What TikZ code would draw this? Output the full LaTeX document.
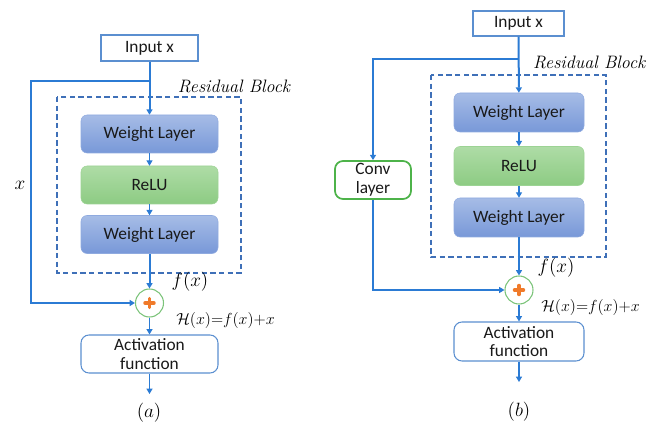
\documentclass[tikz,border=0pt]{standalone}
\usepackage{fontspec}
\setmainfont{Carlito}
\newfontfamily\lmr{Latin Modern Roman}
\usetikzlibrary{arrows.meta}
\definecolor{lblue}{HTML}{2B7BD4}
\definecolor{wtop}{HTML}{A6BCE6}
\definecolor{wbot}{HTML}{7898D8}
\definecolor{wborder}{HTML}{8FAADF}
\definecolor{gtop}{HTML}{AEDCA6}
\definecolor{gbot}{HTML}{8DCB83}
\definecolor{gborder}{HTML}{9CD394}
\definecolor{dashc}{HTML}{3F70B8}
\definecolor{circc}{HTML}{7CC47A}
\definecolor{plusc}{HTML}{F07A2A}
\definecolor{actc}{HTML}{5B8FD0}
\definecolor{convc}{HTML}{4DB34A}
\begin{document}
\begin{tikzpicture}[x=0.75pt,y=-0.75pt,
  line/.style={draw=lblue,line width=1.5pt},
  thinline/.style={draw=lblue,line width=0.8pt},
  tip/.style={-{Triangle[length=4pt,width=4.5pt]}},
  txt/.style={font=\fontsize{13}{14}\selectfont,text=black!90},
  wbox/.style={txt,rounded corners=4.5pt,draw=wborder,top color=wtop,bottom color=wbot,minimum width=102.75pt,minimum height=28.5pt,inner sep=0pt},
  gbox/.style={wbox,draw=gborder,top color=gtop,bottom color=gbot},
  inbox/.style={txt,draw=actc,line width=0.8pt,fill=white,inner sep=0pt},
  actbox/.style={txt,draw=actc,line width=0.8pt,rounded corners=6pt,fill=white,minimum width=102.75pt,minimum height=28.5pt,inner sep=0pt,align=center},
  convbox/.style={txt,draw=convc,line width=1.3pt,rounded corners=6pt,fill=white,minimum width=57pt,minimum height=28.5pt,inner sep=0pt,align=center},
  resbox/.style={draw=dashc,line width=0.9pt,dash pattern=on 4pt off 2.5pt},
  addc/.style={circle,draw=circc,line width=0.8pt,fill=white,minimum size=21pt,inner sep=0pt},
  plus/.style={draw=plusc,line width=2.6pt,line cap=round},
  mlab/.style={font=\fontsize{15}{17}\selectfont},
  hlab/.style={font=\fontsize{12.5}{15}\selectfont,anchor=west,inner sep=0pt},
  rlab/.style={font=\lmr\itshape\fontsize{13.5}{15}\selectfont}
]
\useasboundingbox (0,0) rectangle (651,424);

% ---------- (a) ----------
\draw[resbox] (57,97) rectangle (241,273);
\node[rlab] (resA) at (234,86) {Residual Block};
\node[inbox,minimum width=72.75pt,minimum height=19.5pt] (inA) at (149.5,48) {Input x};
\node[wbox] (wl1A) at (149.5,134) {Weight Layer};
\node[gbox] (reluA) at (149.5,185) {ReLU};
\node[wbox] (wl2A) at (149.5,234.5) {Weight Layer};
\node[addc] (circA) at (149.5,303) {};
\node[actbox] (actA) at (149.5,354) {Activation\\function};
\coordinate (outA) at (149.5,394);
\coordinate (jA) at (149.5,81);
\coordinate (cA) at (31,81);

\draw[line,tip] (inA) -- (wl1A);
\draw[thinline,tip] (wl1A) -- (reluA);
\draw[thinline,tip] (reluA) -- (wl2A);
\draw[line,tip] (wl2A) -- (circA);
\draw[line,tip] (jA) -- (cA) |- (circA.west);
\draw[thinline,tip] (circA) -- (actA);
\draw[thinline,tip] (actA) -- (outA);
\draw[plus] (circA.center) ++(-4.5,0) -- ++(9,0);
\draw[plus] (circA.center) ++(0,-4.5) -- ++(0,9);

\node[mlab] (xA) at (20,185) {$x$};
\node[mlab] (fA) at (190,282) {$f(x)$};
\node[hlab] (hA) at (176,321) {$\mathcal{H}(x){=}f(x){+}x$};
\node[mlab] (capA) at (149,413) {$(a)$};

% ---------- (b) ----------
\draw[resbox] (431,75) rectangle (606,257);
\node[rlab,anchor=east] (resB) at (650,62) {Residual Block};
\node[inbox,minimum width=68.25pt,minimum height=18.75pt] (inB) at (518.5,23.5) {Input x};
\node[wbox,minimum width=97.5pt,minimum height=29.25pt] (wl1B) at (519,112.5) {Weight Layer};
\node[gbox,minimum width=97.5pt,minimum height=29.25pt] (reluB) at (519,166) {ReLU};
\node[wbox,minimum width=97.5pt,minimum height=29.25pt] (wl2B) at (519,217.5) {Weight Layer};
\node[convbox] (convB) at (373,180) {Conv\\layer};
\node[addc] (circB) at (519,290) {};
\node[actbox,minimum width=97.5pt,minimum height=29.25pt] (actB) at (519,341.5) {Activation\\function};
\coordinate (outB) at (519,382);
\coordinate (jB) at (519,59);
\coordinate (cB) at (373,59);

\draw[line,tip] (inB) -- (wl1B);
\draw[thinline,tip] (wl1B) -- (reluB);
\draw[thinline,tip] (reluB) -- (wl2B);
\draw[line,tip] (wl2B) -- (circB);
\draw[line,tip] (jB) -- (cB) -- (convB.north);
\draw[line,tip] (convB.south) |- (circB.west);
\draw[thinline,tip] (circB) -- (actB);
\draw[thinline,tip] (actB) -- (outB);
\draw[plus] (circB.center) ++(-4.5,0) -- ++(9,0);
\draw[plus] (circB.center) ++(0,-4.5) -- ++(0,9);

\node[mlab] (fB) at (556,268) {$f(x)$};
\node[hlab] (hB) at (541,308) {$\mathcal{H}(x){=}f(x){+}x$};
\node[mlab] (capB) at (519,412) {$(b)$};
\end{tikzpicture}
\end{document}
